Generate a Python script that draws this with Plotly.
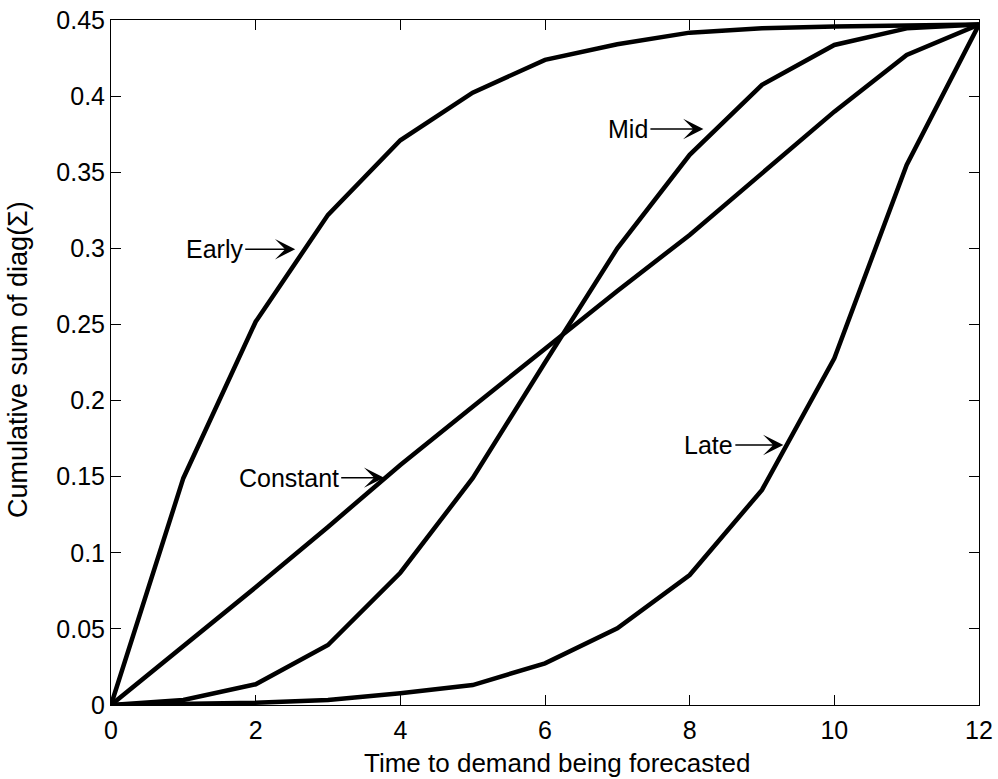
import plotly.graph_objects as go

# Forecast horizon (time to demand being forecasted)
t = list(range(13))

# Cumulative sum of diag(Sigma) for each uncertainty-resolution profile
early = [0, 0.149, 0.2518, 0.322, 0.371, 0.4023, 0.4238, 0.4341, 0.4417, 0.4445, 0.4458, 0.4466, 0.447]
mid = [0, 0.0033, 0.0136, 0.0394, 0.0869, 0.149, 0.225, 0.300, 0.3614, 0.4074, 0.4336, 0.4445, 0.447]
constant = [0, 0.0385, 0.0773, 0.117, 0.1577, 0.196, 0.234, 0.272, 0.3088, 0.349, 0.3898, 0.4271, 0.447]
late = [0, 0.0005, 0.0015, 0.0033, 0.0077, 0.0131, 0.0274, 0.0504, 0.0854, 0.1413, 0.2278, 0.3548, 0.447]

x_ticks = [0, 2, 4, 6, 8, 10, 12]
y_ticks = [0, 0.05, 0.1, 0.15, 0.2, 0.25, 0.3, 0.35, 0.4, 0.45]
y_tick_text = ["0", "0.05", "0.1", "0.15", "0.2", "0.25", "0.3", "0.35", "0.4", "0.45"]

# Labels with arrow tips: (text, x, y, arrow length in px)
labels = [
    ("Early", 2.547, 0.2994, 50),
    ("Mid", 8.19, 0.3784, 53),
    ("Constant", 3.777, 0.1493, 43),
    ("Late", 9.295, 0.1708, 48),
]

FONT = "Liberation Sans, Arial, sans-serif"
W, H = 998, 779
L, R, T, B = 111, 19, 20, 74

fig = go.Figure()
for ys in (early, mid, constant, late):
    fig.add_trace(go.Scatter(x=t, y=ys, mode="lines",
                             line=dict(color="black", width=4.5),
                             showlegend=False, hoverinfo="skip"))

for text, xa, ya, length in labels:
    fig.add_annotation(x=xa, y=ya, xref="x", yref="y", text=text,
                       showarrow=True, ax=-length, ay=0,
                       xanchor="right", yanchor="middle",
                       arrowhead=3, arrowsize=2.6, arrowwidth=1.3,
                       arrowcolor="black",
                       font=dict(family=FONT, size=25, color="black"))

pw = W - L - R
ph = H - T - B
# Axis titles
fig.add_annotation(text="Time to demand being forecasted", xref="paper", yref="paper",
                   x=(557 - L) / pw, y=-(763 - (H - B)) / ph,
                   xanchor="center", yanchor="middle", showarrow=False,
                   font=dict(family=FONT, size=26, color="black"))
fig.add_annotation(text="Cumulative sum of diag(Σ)", xref="paper", yref="paper",
                   x=(18 - L) / pw, y=((H - B) - 360) / ph,
                   xanchor="center", yanchor="middle", showarrow=False,
                   textangle=-90,
                   font=dict(family=FONT, size=27, color="black"))

axis_common = dict(showgrid=False, zeroline=False, showline=True, linecolor="black",
                   linewidth=1, mirror="ticks", ticks="inside", ticklen=10,
                   tickcolor="black", tickwidth=1,
                   tickfont=dict(family=FONT, size=25, color="black"))

fig.update_layout(
    width=W, height=H,
    margin=dict(l=L, r=R, t=T, b=B, autoexpand=False),
    paper_bgcolor="white", plot_bgcolor="white",
    xaxis=dict(range=[0, 12], tickvals=x_ticks, ticklabelstandoff=3, **axis_common),
    yaxis=dict(range=[0, 0.45], tickvals=y_ticks, ticktext=y_tick_text, **axis_common),
)

fig.write_html("out.html")
